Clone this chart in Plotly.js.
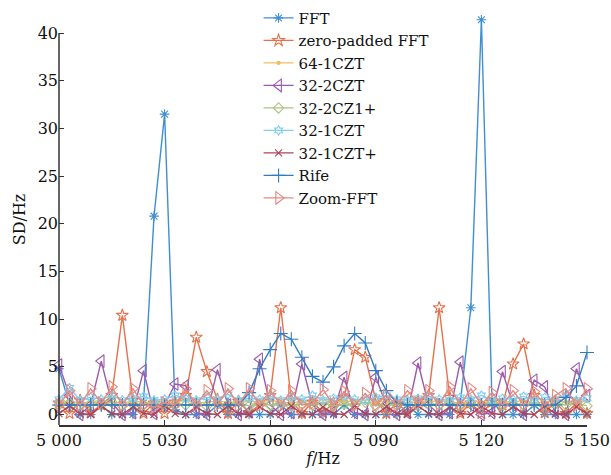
<!DOCTYPE html>
<html>
<head>
<meta charset="utf-8">
<script src="https://cdn.plot.ly/plotly-3.0.1.min.js"></script>
<style>html,body{margin:0;padding:0;background:#fff;}#chart{width:611px;height:475px;}</style>
</head>
<body>
<div id="chart"></div>
<script>
// frequency grid (Hz)
const freq = [];
for (let f = 5000; f <= 5150; f += 3) freq.push(f);

const seriesNames = ["FFT","zero-padded FFT","64-1CZT","32-2CZT","32-2CZ1+","32-1CZT","32-1CZT+","Rife","Zoom-FFT"];

const fft = [4.8,1.0,0.0,0.0,1.0,0.0,0.0,0.0,1.2,20.8,31.5,0.5,0.0,0.0,0.0,1.0,0.0,0.0,0.0,0.0,0.0,1.0,0.0,0.0,0.0,0.0,0.0,1.0,0.0,0.0,0.0,0.0,0.0,1.0,0.0,0.0,0.0,0.0,1.2,11.2,41.4,1.5,0.0,0.0,0.0,1.0,0.0,0.0,0.0,0.0,0.0];
const zeroPadded = [1.2,0.1,1.5,0.2,1.0,2.0,10.4,1.5,0.1,1.2,0.1,1.3,2.0,8.1,4.5,1.6,0.1,1.4,0.2,1.0,2.0,11.2,1.5,0.1,1.3,0.2,1.2,1.8,6.8,6.0,1.5,0.1,1.2,0.2,1.4,2.0,11.2,1.8,0.1,1.2,0.1,1.3,1.0,5.3,7.4,2.0,0.2,1.3,0.1,1.2,0.1];
const czt64_1 = [1.3,1.4,1.2,1.3,1.5,1.3,1.2,1.4,1.3,1.2,1.4,1.3,1.5,1.2,1.3,1.4,1.3,1.2,1.4,1.3,1.5,1.3,1.2,1.4,1.3,1.2,1.4,1.3,1.5,1.2,1.3,1.4,1.3,1.2,1.4,1.3,1.5,1.3,1.2,1.4,1.3,1.2,1.4,1.3,1.5,1.2,1.3,1.4,1.3,1.2,1.4];
const czt32_2 = [5.2,2.0,0.0,1.0,5.6,1.2,0.0,0.2,4.6,0.1,1.0,3.2,3.0,0.2,0.0,4.7,1.0,0.0,0.3,5.8,1.0,0.0,0.2,5.3,1.0,0.0,0.3,3.9,0.2,0.0,3.9,1.0,0.0,0.2,5.4,1.0,0.0,0.2,5.5,1.0,0.0,0.2,4.5,1.0,0.0,3.6,2.9,0.2,0.0,4.8,2.0];
const czt32_2plus = [1.0,1.2,0.9,1.1,1.0,1.3,0.9,1.1,1.0,1.2,0.9,1.1,1.0,1.2,0.9,1.1,1.0,1.3,0.9,1.1,1.0,1.2,0.9,1.1,1.0,1.2,0.9,1.1,1.0,1.3,0.9,1.1,1.0,1.2,0.9,1.1,1.0,1.2,0.9,1.1,1.0,1.3,0.9,1.1,1.0,1.2,0.9,1.1,1.0,1.2,0.9];
const czt32_1 = [1.6,2.8,1.5,1.8,1.6,2.0,1.5,1.7,1.9,1.5,1.6,2.0,1.7,1.5,1.8,1.6,2.1,1.5,1.7,1.6,1.9,1.5,1.8,1.6,2.0,1.5,1.7,1.9,1.6,1.5,1.8,2.0,1.6,1.5,1.7,1.9,1.6,1.5,1.8,1.6,2.0,1.5,1.7,1.6,1.9,1.5,1.8,1.6,2.0,1.5,1.7];
const czt32_1plus = [0.1,0.9,0.1,0.0,0.9,0.1,0.0,0.8,0.1,0.0,0.9,0.1,0.0,0.8,0.1,0.0,0.9,0.1,0.0,0.8,0.1,0.0,0.9,0.1,0.0,0.8,0.1,0.0,0.9,0.1,0.0,0.8,0.1,0.0,0.9,0.1,0.0,0.8,0.1,0.0,0.9,0.1,0.0,0.8,0.1,0.0,0.9,0.1,0.0,0.8,0.1];
const rife = [1.0,1.0,1.0,1.0,1.0,1.0,1.0,1.0,1.0,1.0,1.0,1.0,1.0,1.0,1.0,1.0,1.0,1.0,2.3,4.8,6.8,8.5,7.9,6.0,4.0,3.4,5.0,7.2,8.5,7.5,4.6,2.5,1.2,1.0,1.0,1.0,1.0,1.0,1.0,1.0,1.0,1.0,1.0,1.0,1.0,1.0,1.0,1.0,1.8,3.0,6.5];
const zoomFFT = [1.0,2.5,1.0,2.7,1.2,2.9,1.0,2.7,1.0,0.8,1.2,1.0,2.7,1.0,2.5,1.0,2.7,1.0,2.7,1.0,2.5,1.0,2.5,1.0,1.2,2.6,1.0,2.4,1.0,2.2,1.0,2.0,1.0,2.5,1.2,2.5,1.0,2.9,1.0,2.7,1.0,2.3,1.0,2.5,1.0,2.4,1.0,2.0,2.7,1.0,2.7];

const xTickVals = [5000,5030,5060,5090,5120,5150];
const xTickText = ["5 000","5 030","5 060","5 090","5 120","5 150"];
const yTickVals = [0,5,10,15,20,25,30,35,40];

const allY = [fft, zeroPadded, czt64_1, czt32_2, czt32_2plus, czt32_1, czt32_1plus, rife, zoomFFT];
const styles = [
  {color:'#3f8fd2', symbol:'asterisk-open', size:8},
  {color:'#e6714c', symbol:'star-open', size:9},
  {color:'#f0bd5e', symbol:'circle', size:3},
  {color:'#9b5aab', symbol:'triangle-left-open', size:11},
  {color:'#a9c47f', symbol:'diamond-open', size:8},
  {color:'#80cdef', symbol:'hexagram-open', size:7},
  {color:'#ac4458', symbol:'x-thin-open', size:7},
  {color:'#2f7cc4', symbol:'cross-thin-open', size:10},
  {color:'#e48a80', symbol:'triangle-right-open', size:11}
];

const traces = allY.map((y, k) => ({
  x: freq, y: y, name: seriesNames[k], type: 'scatter', mode: 'lines+markers',
  cliponaxis: false,
  line: {color: styles[k].color, width: 1.4},
  marker: {symbol: styles[k].symbol, size: styles[k].size, color: styles[k].color,
           line: {color: styles[k].color, width: 1.1}}
}));

const FAM = 'DejaVu Serif';
const font = {family: FAM, color: '#111', size: 16};

const layout = {
  width: 611, height: 475,
  margin: {l: 59, r: 24, t: 14, b: 50, autoexpand: false},
  paper_bgcolor: '#fff', plot_bgcolor: '#fff',
  font: font,
  showlegend: true,
  legend: {x: 0.378, y: 1.03, xanchor: 'left', yanchor: 'top', bgcolor: 'rgba(0,0,0,0)',
           font: {family: FAM, size: 15, color: '#111'}, tracegroupgap: 0, itemwidth: 30},
  xaxis: {range: [5000, 5150], tickvals: xTickVals, ticktext: xTickText, ticks: 'inside', ticklen: 5,
          tickcolor: '#333', showgrid: false, zeroline: false, showline: true, linecolor: '#333', linewidth: 1.5,
          tickfont: {family: FAM, size: 16, color: '#111'},
          title: {text: '<i>f</i>/Hz', font: {family: FAM, size: 16, color: '#111'}, standoff: 4}},
  yaxis: {range: [-1.1, 42], tickvals: yTickVals, ticks: 'inside', ticklen: 5, tickcolor: '#333',
          showgrid: false, zeroline: false, showline: false,
          tickfont: {family: FAM, size: 16, color: '#111'},
          title: {text: 'SD/Hz', font: {family: FAM, size: 16, color: '#111'}, standoff: 8}},
  shapes: [
    {type: 'line', xref: 'paper', yref: 'y', x0: 0, x1: 0, y0: -1.1, y1: 40, line: {color: '#333', width: 1.5}}
  ]
};

Plotly.newPlot('chart', traces, layout, {displayModeBar: false, staticPlot: true});
</script>
</body>
</html>
